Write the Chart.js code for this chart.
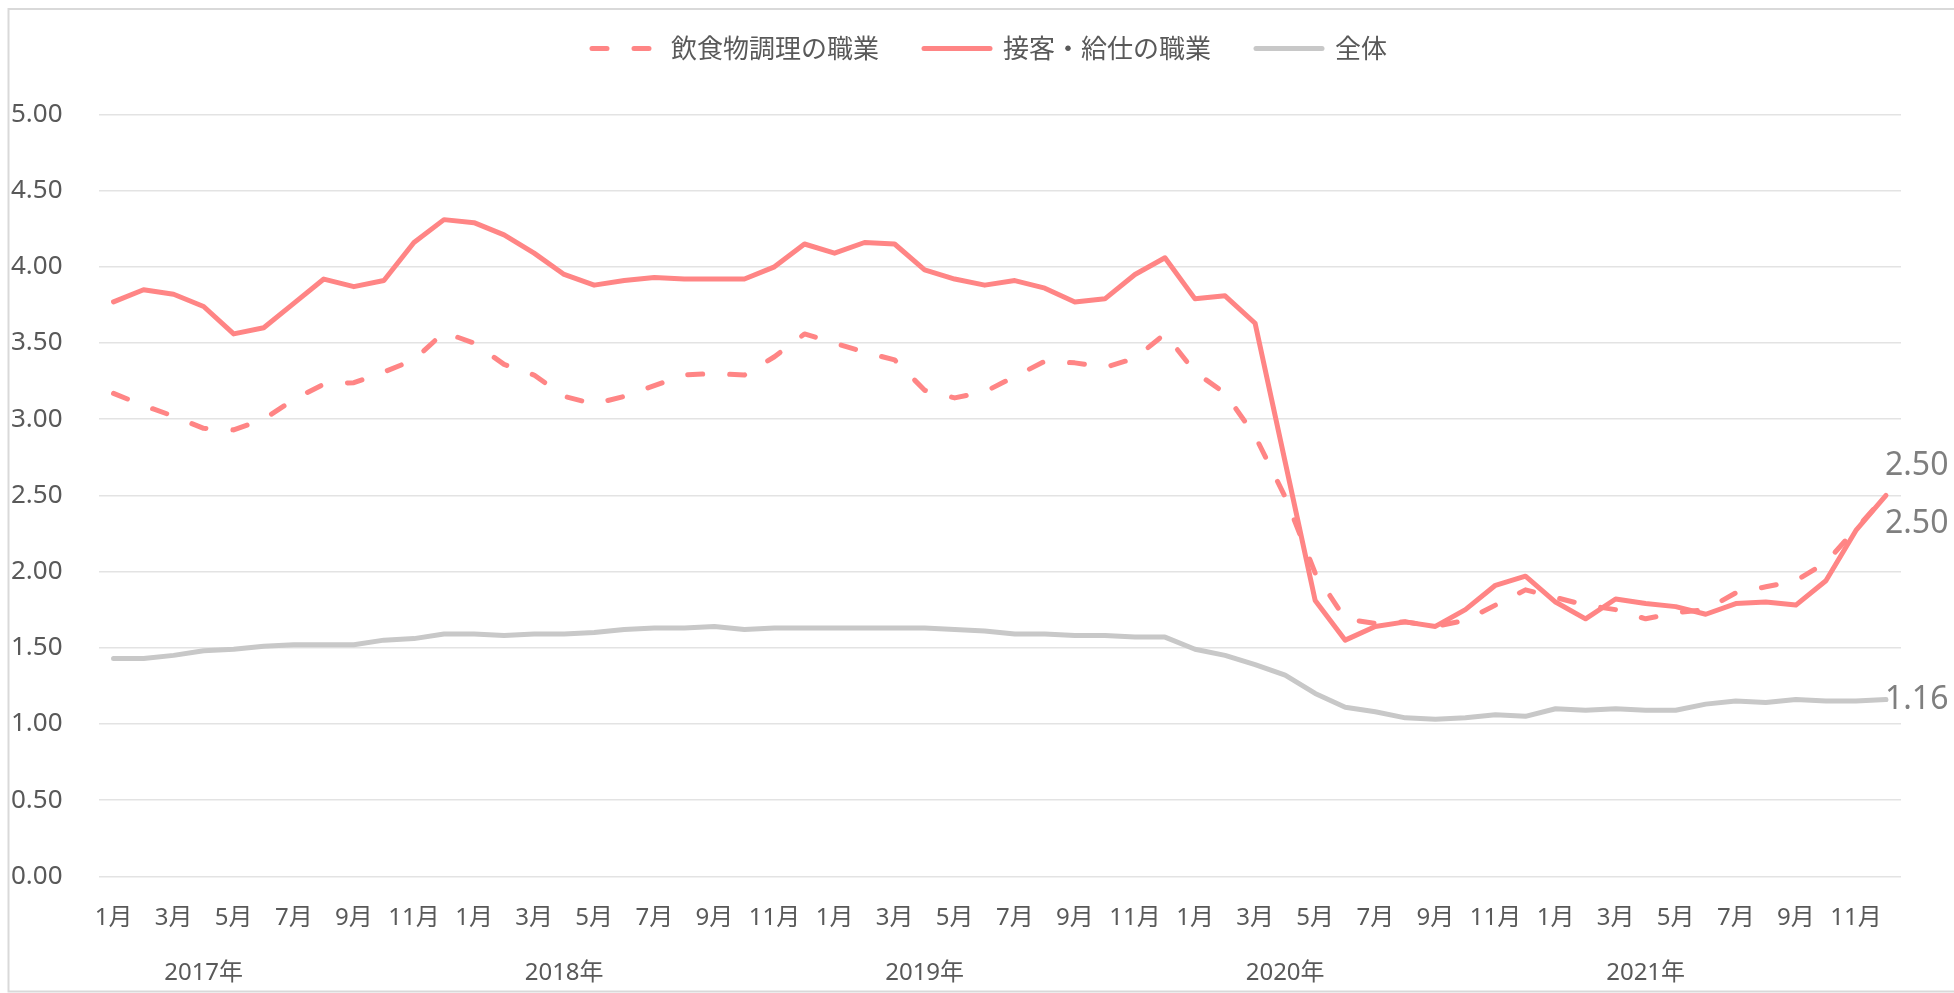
<!DOCTYPE html>
<html lang="ja">
<head>
<meta charset="utf-8">
<title>有効求人倍率の推移</title>
<script src="https://cdn.jsdelivr.net/npm/chart.js@4/dist/chart.umd.min.js"></script>
<style>
  html, body { margin: 0; padding: 0; background: #fff; overflow: hidden; }
  #wrap { width: 1980px; height: 993px; }
</style>
</head>
<body>
<div id="wrap"><canvas id="chart" width="1980" height="993"></canvas></div>
<script>
// 2017年1月〜2021年12月（月次）
var years = ['2017年', '2018年', '2019年', '2020年', '2021年'];
var months = ['1月', '2月', '3月', '4月', '5月', '6月', '7月', '8月', '9月', '10月', '11月', '12月'];

var cooking = [ // 飲食物調理の職業
    3.17, 3.09, 3.02, 2.94, 2.93, 3.00, 3.13, 3.23, 3.24, 3.31, 3.39, 3.57,
    3.50, 3.36, 3.29, 3.15, 3.10, 3.15, 3.22, 3.29, 3.30, 3.29, 3.41, 3.56,
    3.50, 3.44, 3.39, 3.19, 3.14, 3.18, 3.28, 3.38, 3.37, 3.34, 3.40, 3.56,
    3.31, 3.17, 2.89, 2.49, 1.99, 1.69, 1.66, 1.67, 1.64, 1.68, 1.78, 1.88,
    1.83, 1.78, 1.75, 1.69, 1.73, 1.75, 1.86, 1.90, 1.94, 2.06, 2.28, 2.50
];
var service = [ // 接客・給仕の職業
    3.77, 3.85, 3.82, 3.74, 3.56, 3.60, 3.76, 3.92, 3.87, 3.91, 4.16, 4.31,
    4.29, 4.21, 4.09, 3.95, 3.88, 3.91, 3.93, 3.92, 3.92, 3.92, 4.00, 4.15,
    4.09, 4.16, 4.15, 3.98, 3.92, 3.88, 3.91, 3.86, 3.77, 3.79, 3.95, 4.06,
    3.79, 3.81, 3.63, 2.72, 1.81, 1.55, 1.64, 1.67, 1.64, 1.75, 1.91, 1.97,
    1.80, 1.69, 1.82, 1.79, 1.77, 1.72, 1.79, 1.80, 1.78, 1.94, 2.27, 2.50
];
var overall = [ // 全体
    1.43, 1.43, 1.45, 1.48, 1.49, 1.51, 1.52, 1.52, 1.52, 1.55, 1.56, 1.59,
    1.59, 1.58, 1.59, 1.59, 1.60, 1.62, 1.63, 1.63, 1.64, 1.62, 1.63, 1.63,
    1.63, 1.63, 1.63, 1.63, 1.62, 1.61, 1.59, 1.59, 1.58, 1.58, 1.57, 1.57,
    1.49, 1.45, 1.39, 1.32, 1.20, 1.11, 1.08, 1.04, 1.03, 1.04, 1.06, 1.05,
    1.10, 1.09, 1.10, 1.09, 1.09, 1.13, 1.15, 1.14, 1.16, 1.15, 1.15, 1.16
];

var labels = [];
years.forEach(function (y) {
    months.forEach(function (m) { labels.push(y + m); });
});

var SALMON = '#ff8585';
var GRAY = '#c8c8c8';
var TEXT = '#595959';
var JP = '"Noto Sans", "Noto Sans CJK JP", sans-serif';

// 最終月の値ラベル（上下にずらす）
var labelShift = [-30, 28, 0];
var endLabels = {
    id: 'endLabels',
    afterDatasetsDraw: function (chart) {
        var ctx = chart.ctx;
        ctx.save();
        ctx.font = '32px "Noto Sans"';
        ctx.fillStyle = '#7f7f7f';
        ctx.textAlign = 'left';
        ctx.textBaseline = 'middle';
        chart.data.datasets.forEach(function (ds, i) {
            var meta = chart.getDatasetMeta(i);
            var pt = meta.data[meta.data.length - 1];
            ctx.fillText(ds.data[ds.data.length - 1].toFixed(2), pt.x - 1, pt.y + labelShift[i]);
        });
        ctx.restore();
    }
};

var frame = {
    id: 'frame',
    beforeInit: function (chart) {
        // legend takes the space down to the plot top
        var legend = chart.legend;
        var fit = legend.fit;
        legend.fit = function () {
            fit.call(this);
            this.height = 124;
        };
    },
    beforeDraw: function (chart) {
        var ctx = chart.ctx;
        ctx.save();
        ctx.fillStyle = '#fff';
        ctx.fillRect(0, 0, chart.width, chart.height);
        ctx.strokeStyle = '#d9d9d9';
        ctx.lineWidth = 2;
        ctx.strokeRect(8.5, 9, 2200, 982.5);
        ctx.restore();
    }
};

var common = {
    pointRadius: 0,
    pointHoverRadius: 0,
    borderWidth: 5,
    borderCapStyle: 'round',
    borderJoinStyle: 'round',
    tension: 0,
    fill: false
};

new Chart(document.getElementById('chart'), {
    type: 'line',
    data: {
        labels: labels,
        datasets: [
            Object.assign({ label: '飲食物調理の職業', data: cooking, borderColor: SALMON, backgroundColor: SALMON, borderDash: [15, 27] }, common),
            Object.assign({ label: '接客・給仕の職業', data: service, borderColor: SALMON, backgroundColor: SALMON }, common),
            Object.assign({ label: '全体', data: overall, borderColor: GRAY, backgroundColor: GRAY }, common)
        ]
    },
    options: {
        responsive: false,
        animation: false,
        devicePixelRatio: 1,
        layout: { padding: { top: -9.5, left: 0, right: 1, bottom: 0 } },
        plugins: {
            tooltip: { enabled: false },
            legend: {
                position: 'top',
                labels: {
                    font: { family: '"Noto Sans CJK JP", sans-serif', size: 26 },
                    color: TEXT,
                    usePointStyle: true,
                    pointStyle: 'line',
                    pointStyleWidth: 66,
                    boxHeight: 26,
                    padding: 45,
                    generateLabels: function (chart) {
                        var items = Chart.defaults.plugins.legend.labels.generateLabels(chart);
                        items.forEach(function (it) {
                            var ds = chart.data.datasets[it.datasetIndex];
                            it.lineDash = ds.borderDash || [];
                            it.lineCap = 'round';
                            it.lineWidth = ds.borderWidth;
                            it.strokeStyle = ds.borderColor;
                        });
                        return items;
                    }
                }
            }
        },
        scales: {
            x: {
                type: 'category',
                position: 'bottom',
                weight: 0,
                offset: true,
                grid: { display: false, drawTicks: false },
                border: { display: false },
                ticks: {
                    autoSkip: false,
                    maxRotation: 0,
                    padding: 27,
                    color: TEXT,
                    font: { family: JP, size: 24 },
                    callback: function (v, i) { return i % 2 === 0 ? months[i % 12] : ''; }
                },
                afterFit: function (s) { s.height = 60; }
            },
            x2: {
                type: 'category',
                position: 'bottom',
                weight: 1,
                offset: true,
                grid: { display: false, drawTicks: false },
                border: { display: false },
                ticks: {
                    autoSkip: false,
                    maxRotation: 0,
                    padding: 22,
                    color: TEXT,
                    font: { family: JP, size: 24 },
                    callback: function (v, i) { return i % 12 === 3 ? years[Math.floor(i / 12)] : ''; }
                },
                afterFit: function (s) { s.height = 56.7; }
            },
            y: {
                min: 0,
                max: 5,
                position: 'left',
                grid: { color: '#e3e3e3', lineWidth: 1.5, drawTicks: false },
                border: { display: false },
                ticks: {
                    stepSize: 0.5,
                    padding: 36,
                    color: TEXT,
                    font: { family: '"Noto Sans", sans-serif', size: 26 },
                    callback: function (v) { return v.toFixed(2); }
                },
                afterFit: function (s) { s.width = 98.5; }
            },
            yR: {
                position: 'right',
                grid: { display: false, drawTicks: false },
                border: { display: false },
                ticks: { display: false },
                afterFit: function (s) { s.width = 78; }
            }
        }
    },
    plugins: [frame, endLabels]
});
</script>
</body>
</html>
